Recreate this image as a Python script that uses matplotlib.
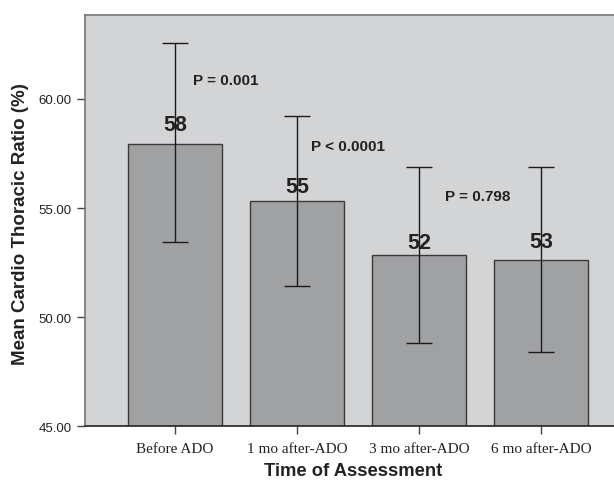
import matplotlib
matplotlib.use("Agg")
import matplotlib.pyplot as plt
import numpy as np

categories = ["Before ADO", "1 mo after-ADO", "3 mo after-ADO", "6 mo after-ADO"]
means = [57.94, 55.31, 52.86, 52.61]
upper = [62.57, 59.23, 56.87, 56.90]
lower = [53.43, 51.43, 48.83, 48.39]
value_labels = ["58", "55", "52", "53"]
p_labels = ["P = 0.001", "P < 0.0001", "P = 0.798"]
yticks = [45, 50, 55, 60]

W, H = 614, 481
fig = plt.figure(figsize=(W / 100, H / 100), dpi=100)
ax = fig.add_axes([85 / W, 1 - 427.3 / H, 1 - 85 / W, (427.3 - 15.7) / H])

x = np.arange(len(categories))
m = np.array(means)
yerr = np.vstack([m - np.array(lower), np.array(upper) - m])

ax.set_facecolor("#d3d4d6")
ax.bar(x, m, width=0.77, bottom=0, color="#a0a1a3", edgecolor="#3a3a3a", linewidth=1.0, zorder=2)
ax.errorbar(x, m, yerr=yerr, fmt="none", ecolor="#1a1a1a", elinewidth=1.0,
            capsize=9.7, capthick=1.0, zorder=3)

ax.set_xlim(-0.738, 3.598)
ax.set_ylim(45, 63.86)
ax.set_yticks(yticks)
ax.set_yticklabels([f"{v:.2f}" for v in yticks], fontsize=9.5, family="Liberation Sans", color="#222222")
ax.set_xticks(x)
ax.set_xticklabels(categories, fontsize=11, family="Liberation Serif", color="#222222")
ax.tick_params(axis="both", direction="out", length=6, width=1.0, color="#444444")
ax.tick_params(axis="x", pad=5)

for s in ["top", "left"]:
    ax.spines[s].set_color("#777777")
    ax.spines[s].set_linewidth(1.2)
ax.spines["bottom"].set_color("#222222")
ax.spines["bottom"].set_linewidth(1.2)
ax.spines["right"].set_visible(False)

fig.text(353 / W, 1 - 476.0 / H, "Time of Assessment", ha="center", va="baseline",
         fontsize=13.2, fontweight="bold", family="Liberation Sans", color="#222222")
fig.text(21 / W, 1 - 224.5 / H, "Mean Cardio Thoracic Ratio (%)", ha="center", va="center",
         rotation=90, fontsize=13.5, fontweight="bold", family="Liberation Sans", color="#222222")

label_offsets_px = [14, 9.5, 7.2, 13.3]
for xi, v, lab, off in zip(x, means, value_labels, label_offsets_px):
    ax.annotate(lab, (xi, v), xytext=(0, off * 0.72), textcoords="offset points",
                ha="center", va="baseline", fontsize=15.5, fontweight="bold",
                family="Liberation Sans", color="#222222", zorder=4)

p_pos = [(0.15, 60.69), (1.115, 57.65), (2.213, 55.39)]
for (px, py), lab in zip(p_pos, p_labels):
    ax.text(px, py, lab, ha="left", va="baseline", fontsize=11, fontweight="bold",
            family="Liberation Sans", color="#222222", zorder=4)

fig.savefig("out.png", dpi=100)
